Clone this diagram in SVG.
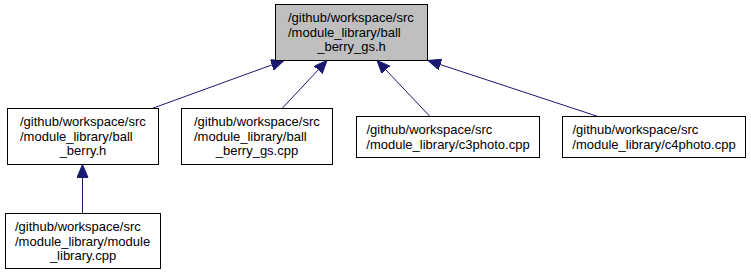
<svg xmlns="http://www.w3.org/2000/svg" width="751" height="275" viewBox="0 0 751 275">
<style>
.box{fill:#ffffff;stroke:#000000;stroke-width:1}
.cur{fill:#bfbfbf;stroke:#000000;stroke-width:1}
text{font-family:"Liberation Sans",Arial,Helvetica,sans-serif;font-size:13px;fill:#000000}
.mid{text-anchor:middle}
.edge{stroke:#191970;stroke-width:1;fill:none}
</style>
<defs>
<marker id="ah" markerUnits="userSpaceOnUse" markerWidth="14" markerHeight="12" refX="13" refY="5.5" orient="auto">
<path d="M0,0 L13,5.5 L0,11 z" fill="#191970" stroke="#191970" stroke-width="1"/>
</marker>
</defs>
<rect width="751" height="275" fill="#ffffff"/>
<g id="edges">
<line class="edge" x1="152" y1="108.5" x2="284" y2="60.5" marker-end="url(#ah)"/>
<line class="edge" x1="282" y1="108.5" x2="327" y2="60.5" marker-end="url(#ah)"/>
<line class="edge" x1="430" y1="116.5" x2="377" y2="60.5" marker-end="url(#ah)"/>
<line class="edge" x1="598" y1="116.5" x2="428" y2="60.5" marker-end="url(#ah)"/>
<line class="edge" x1="82.5" y1="213.5" x2="82.5" y2="164.5" marker-end="url(#ah)"/>
</g>
<g id="node_ball_berry_gs_h">
<rect class="cur" x="275.5" y="4.5" width="152" height="56"/>
<text x="288" y="22">/github/workspace/src</text>
<text x="288" y="36.5">/module_library/ball</text>
<text class="mid" x="351.5" y="51">_berry_gs.h</text>
</g>
<g id="node_ball_berry_h">
<rect class="box" x="7.5" y="108.5" width="151" height="56"/>
<text x="20" y="126">/github/workspace/src</text>
<text x="20" y="140.5">/module_library/ball</text>
<text class="mid" x="83" y="155">_berry.h</text>
</g>
<g id="node_ball_berry_gs_cpp">
<rect class="box" x="181.5" y="108.5" width="151" height="56"/>
<text x="194" y="126">/github/workspace/src</text>
<text x="194" y="140.5">/module_library/ball</text>
<text class="mid" x="257" y="155">_berry_gs.cpp</text>
</g>
<g id="node_c3photo">
<rect class="box" x="356.5" y="116.5" width="183" height="41"/>
<text x="366.5" y="134">/github/workspace/src</text>
<text class="mid" x="448" y="148.5">/module_library/c3photo.cpp</text>
</g>
<g id="node_c4photo">
<rect class="box" x="562.5" y="116.5" width="183" height="41"/>
<text x="572.5" y="134">/github/workspace/src</text>
<text class="mid" x="654" y="148.5">/module_library/c4photo.cpp</text>
</g>
<g id="node_module_library_cpp">
<rect class="box" x="5.5" y="213.5" width="155" height="55"/>
<text x="15" y="231">/github/workspace/src</text>
<text x="15" y="245.5">/module_library/module</text>
<text class="mid" x="83" y="260">_library.cpp</text>
</g>
</svg>
